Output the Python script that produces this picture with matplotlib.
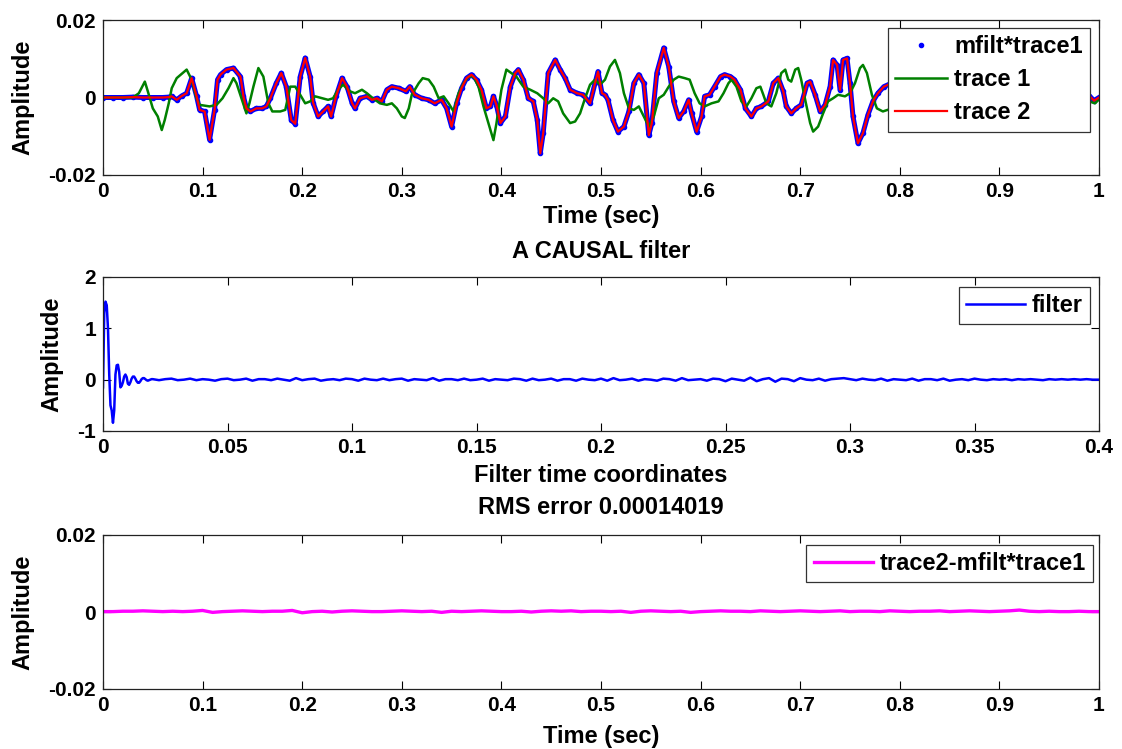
import numpy as np
import matplotlib
matplotlib.use("Agg")
import matplotlib.pyplot as plt

plt.rcParams['font.family'] = ['Liberation Sans', 'DejaVu Sans']
plt.rcParams['font.weight'] = 'bold'
plt.rcParams['font.size'] = 17
plt.rcParams['axes.unicode_minus'] = False

# trace 2 (and mfilt*trace1, which sits on top of it)
t2_t = [0.000, 0.010, 0.020, 0.030, 0.040, 0.050, 0.060, 0.066, 0.069, 0.074, 0.079, 0.084, 0.089,
        0.094, 0.097, 0.102, 0.107, 0.112, 0.115, 0.118, 0.124, 0.131, 0.138, 0.141, 0.144, 0.148,
        0.154, 0.160, 0.164, 0.168, 0.174, 0.179, 0.184, 0.189, 0.193, 0.198, 0.203, 0.208, 0.211,
        0.216, 0.221, 0.226, 0.229, 0.234, 0.240, 0.245, 0.250, 0.253, 0.258, 0.265, 0.270, 0.275,
        0.280, 0.285, 0.290, 0.297, 0.304, 0.308, 0.313, 0.320, 0.327, 0.333, 0.340, 0.345, 0.350,
        0.355, 0.360, 0.365, 0.370, 0.375, 0.380, 0.385, 0.389, 0.392, 0.395, 0.399, 0.404, 0.409,
        0.414, 0.417, 0.422, 0.427, 0.432, 0.436, 0.439, 0.442, 0.447, 0.454, 0.459, 0.464, 0.469,
        0.476, 0.482, 0.489, 0.494, 0.497, 0.501, 0.504, 0.507, 0.512, 0.517, 0.523, 0.528, 0.533,
        0.538, 0.543, 0.548, 0.551, 0.556, 0.563, 0.568, 0.573, 0.578, 0.583, 0.588, 0.591, 0.596,
        0.601, 0.604, 0.609, 0.614, 0.620, 0.624, 0.630, 0.634, 0.640, 0.645, 0.651, 0.656, 0.661,
        0.668, 0.673, 0.678, 0.683, 0.686, 0.691, 0.696, 0.701, 0.707, 0.710, 0.715, 0.720, 0.725,
        0.730, 0.733, 0.737, 0.740, 0.743, 0.747, 0.750, 0.753, 0.758, 0.763, 0.768, 0.773, 0.778,
        0.784, 0.790, 0.800, 0.810, 0.820, 0.830, 0.840, 0.850, 0.860, 0.870, 0.880, 0.890, 0.900,
        0.910, 0.920, 0.930, 0.940, 0.950, 0.960, 0.970, 0.980, 0.990, 0.995, 1.000]
t2_v = [0.0, 0.0, 0.0, 0.0001, 0.0, 0.0, 0.0, 0.0001, 0.0003, -0.0006, 0.0004, 0.0011, 0.0050,
        0.0003, -0.0032, -0.0036, -0.0109, -0.0032, 0.0046, 0.0059, 0.0072, 0.0076, 0.0054, 0.0003,
        -0.0028, -0.0036, -0.0028, -0.0028, -0.0023, -0.0002, 0.0037, 0.0063, 0.0028, -0.0058,
        -0.0068, 0.0054, 0.0102, 0.0054, -0.0014, -0.0049, -0.0036, -0.0023, -0.0049, 0.0003,
        0.0050, 0.0028, -0.0014, -0.0028, -0.0002, 0.0003, -0.0006, -0.0002, -0.0010, 0.0020,
        0.0028, 0.0024, 0.0016, 0.0028, 0.0007, -0.0002, -0.0006, -0.0015, -0.0006, -0.0028,
        -0.0075, -0.0015, 0.0024, 0.0050, 0.0059, 0.0046, 0.0020, -0.0028, -0.0023, 0.0003,
        -0.0019, -0.0066, -0.0049, 0.0028, 0.0063, 0.0072, 0.0046, -0.0002, -0.0010, -0.0058,
        -0.0144, -0.0092, 0.0063, 0.0097, 0.0072, 0.0050, 0.0020, 0.0011, 0.0007, -0.0015, 0.0037,
        0.0067, 0.0011, 0.0007, -0.0006, -0.0058, -0.0088, -0.0075, -0.0036, 0.0037, 0.0059,
        0.0037, -0.0097, -0.0067, 0.0063, 0.0128, 0.0080, -0.0010, -0.0053, -0.0036, -0.0006,
        -0.0041, -0.0088, -0.0049, 0.0003, 0.0007, 0.0028, 0.0054, 0.0059, 0.0054, 0.0046, 0.0020,
        -0.0028, -0.0049, -0.0028, -0.0023, -0.0010, 0.0037, 0.0050, 0.0016, -0.0023, -0.0041,
        -0.0028, -0.0019, 0.0037, 0.0041, 0.0007, -0.0036, -0.0019, 0.0028, 0.0097, 0.0084, 0.0020,
        0.0097, 0.0101, 0.0037, -0.0049, -0.0118, -0.0092, -0.0045, -0.0010, 0.0011, 0.0028,
        0.0035, 0.0030, -0.0020, 0.0040, 0.0010, -0.0030, 0.0050, 0.0020, -0.0020, 0.0030, 0.0000,
        -0.0030, 0.0040, 0.0020, -0.0020, 0.0030, -0.0010, 0.0020, 0.0010, 0.0010, 0.0005,
        -0.0008, 0.0]

# trace 1
t1_t = [0.000, 0.010, 0.020, 0.030, 0.036, 0.042, 0.045, 0.047, 0.050, 0.055, 0.059, 0.062, 0.066,
        0.069, 0.074, 0.084, 0.089, 0.094, 0.097, 0.107, 0.114, 0.120, 0.126, 0.131, 0.134, 0.139,
        0.144, 0.147, 0.151, 0.156, 0.161, 0.166, 0.170, 0.178, 0.183, 0.188, 0.193, 0.198, 0.203,
        0.208, 0.213, 0.220, 0.226, 0.231, 0.236, 0.241, 0.248, 0.253, 0.260, 0.265, 0.271, 0.278,
        0.285, 0.290, 0.295, 0.300, 0.303, 0.307, 0.310, 0.317, 0.321, 0.327, 0.332, 0.337, 0.342,
        0.347, 0.352, 0.357, 0.362, 0.367, 0.372, 0.377, 0.382, 0.387, 0.392, 0.395, 0.400, 0.405,
        0.410, 0.415, 0.422, 0.429, 0.436, 0.442, 0.447, 0.452, 0.457, 0.462, 0.469, 0.474, 0.479,
        0.484, 0.489, 0.494, 0.499, 0.504, 0.509, 0.514, 0.519, 0.523, 0.528, 0.533, 0.538, 0.543,
        0.548, 0.553, 0.558, 0.563, 0.568, 0.573, 0.578, 0.584, 0.589, 0.594, 0.599, 0.604, 0.611,
        0.618, 0.623, 0.628, 0.631, 0.636, 0.641, 0.646, 0.651, 0.656, 0.660, 0.663, 0.666, 0.671,
        0.676, 0.681, 0.685, 0.688, 0.691, 0.695, 0.698, 0.701, 0.705, 0.710, 0.713, 0.718, 0.723,
        0.728, 0.733, 0.738, 0.745, 0.750, 0.755, 0.760, 0.763, 0.767, 0.772, 0.777, 0.783, 0.790,
        0.800, 0.810, 0.820, 0.830, 0.840, 0.850, 0.860, 0.870, 0.880, 0.890, 0.900, 0.910, 0.920,
        0.930, 0.940, 0.950, 0.960, 0.970, 0.980, 0.990, 0.996, 1.000]
t1_v = [0.0, 0.0, 0.0, 0.0, 0.0011, 0.0041, 0.0016, -0.0002, -0.0028, -0.0049, -0.0084, -0.0058,
        -0.0015, 0.0024, 0.0050, 0.0072, 0.0046, -0.0002, -0.0019, -0.0023, -0.0019, -0.0002,
        0.0024, 0.0050, 0.0037, -0.0002, -0.0041, -0.0015, 0.0028, 0.0076, 0.0054, -0.0015,
        -0.0036, -0.0036, -0.0032, 0.0028, 0.0028, 0.0007, -0.0015, -0.0010, 0.0003, -0.0002,
        -0.0006, -0.0002, 0.0020, 0.0033, 0.0016, 0.0011, 0.0020, 0.0011, -0.0002, -0.0015,
        -0.0019, -0.0015, -0.0028, -0.0049, -0.0053, -0.0028, 0.0007, 0.0037, 0.0050, 0.0046,
        0.0028, -0.0002, 0.0003, -0.0015, -0.0036, 0.0011, 0.0037, 0.0054, 0.0054, 0.0028,
        -0.0023, -0.0066, -0.0110, -0.0067, 0.0020, 0.0072, 0.0063, 0.0054, 0.0028, 0.0020,
        0.0011, -0.0002, -0.0015, -0.0002, -0.0010, -0.0041, -0.0066, -0.0062, -0.0041, -0.0002,
        0.0033, 0.0046, 0.0033, 0.0046, 0.0080, 0.0097, 0.0063, 0.0011, -0.0028, -0.0032,
        -0.0023, -0.0049, -0.0075, -0.0049, -0.0002, 0.0007, 0.0028, 0.0046, 0.0054, 0.0050,
        0.0046, 0.0011, -0.0015, -0.0023, -0.0015, -0.0010, 0.0011, 0.0037, 0.0046, 0.0028,
        -0.0010, -0.0023, -0.0002, 0.0024, 0.0028, 0.0007, -0.0015, -0.0023, 0.0011, 0.0063,
        0.0072, 0.0046, 0.0041, 0.0072, 0.0076, 0.0046, -0.0006, -0.0066, -0.0088, -0.0075,
        -0.0041, -0.0010, -0.0002, 0.0007, 0.0003, 0.0011, 0.0037, 0.0076, 0.0084, 0.0063,
        0.0007, -0.0028, -0.0036, -0.0030, 0.0020, 0.0050, 0.0020, -0.0030, 0.0010, 0.0040,
        -0.0010, -0.0040, 0.0010, 0.0030, 0.0000, -0.0030, 0.0010, 0.0030, -0.0010, -0.0020,
        0.0010, 0.0020, 0.0000, -0.0010, -0.0015, -0.0005]

# filter: fine sampling over the first 20 ms, coarser after that
filt_dt_head = 0.0005
filt_head = [-0.15, 1.30, 1.52, 1.45, 1.00, 0.10, -0.50, -0.60, -0.84, -0.60,
             0.10, 0.28, 0.29, 0.15, -0.15, -0.12, -0.05, 0.06, 0.10, 0.05,
             -0.08, -0.10, -0.05, 0.02, 0.06, 0.06, 0.02, -0.03, -0.06, -0.06,
             -0.03, 0.01, 0.03, 0.03, 0.01, -0.01, -0.02, -0.01, 0.00, 0.01]
filt_dt_tail = 0.0025
filt_tail = [0.01, -0.01, 0.01, 0.02, -0.01, 0.00, 0.02, -0.01, 0.01, 0.00,
             -0.02, 0.01, 0.02, -0.01, 0.00, 0.02, -0.02, 0.01, 0.01, -0.01,
             0.02, 0.00, -0.02, 0.03, -0.01, 0.01, 0.02, -0.02, 0.00, 0.01,
             -0.01, 0.02, 0.01, -0.02, 0.02, 0.00, -0.01, 0.02, -0.01, 0.01,
             0.02, -0.02, 0.01, 0.00, -0.01, 0.03, -0.02, 0.01, 0.01, -0.01,
             0.02, -0.01, 0.00, 0.02, -0.02, 0.01, 0.00, -0.01, 0.02, 0.01,
             -0.02, 0.02, -0.01, 0.00, 0.02, -0.02, 0.01, 0.01, -0.02, 0.02,
             0.00, -0.01, 0.02, -0.02, 0.03, -0.01, 0.00, 0.02, -0.02, 0.01,
             0.00, -0.02, 0.02, 0.01, -0.02, 0.03, -0.01, 0.00, 0.01, -0.02,
             0.02, 0.01, -0.03, 0.02, 0.00, -0.02, 0.04, -0.03, 0.01, 0.03,
             -0.04, 0.02, 0.01, -0.03, 0.03, 0.00, -0.01, 0.02, -0.02, 0.01,
             0.02, 0.03, 0.01, -0.01, 0.02, 0.00, -0.01, 0.02, -0.02, 0.01,
             0.00, -0.01, 0.02, -0.02, 0.01, 0.01, -0.01, 0.02, -0.02, 0.00,
             0.01, -0.01, 0.02, 0.00, -0.01, 0.01, 0.00, 0.01, -0.01, 0.01,
             0.00, 0.01, 0.00, -0.01, 0.01, 0.00, 0.01, 0.00, 0.01, 0.00,
             0.01, 0.00, 0.00]

# residual trace2 - mfilt*trace1, one value every 10 ms
resid_dt = 0.01
resid = [0.0001, 0.0001, 0.0002, 0.0002, 0.0003, 0.0002, 0.0001, 0.0002, 0.0001, 0.0002,
         0.0004, -0.0001, 0.0001, 0.0002, 0.0003, 0.0002, 0.0001, 0.0002, 0.0002, 0.0004,
         -0.0002, 0.0001, 0.0002, 0.0000, 0.0002, 0.0003, 0.0002, 0.0001, 0.0001, 0.0002,
         0.0003, 0.0002, 0.0001, 0.0002, -0.0001, 0.0002, 0.0001, 0.0002, 0.0003, 0.0002,
         0.0001, 0.0001, 0.0002, 0.0000, 0.0002, 0.0003, 0.0002, 0.0003, 0.0001, 0.0002,
         0.0002, 0.0001, 0.0002, -0.0001, 0.0002, 0.0003, 0.0002, 0.0001, 0.0002, -0.0001,
         0.0001, 0.0002, 0.0003, 0.0002, 0.0002, 0.0001, 0.0003, 0.0002, 0.0001, 0.0002,
         0.0003, 0.0002, 0.0001, 0.0002, 0.0003, 0.0001, 0.0002, 0.0002, 0.0001, 0.0003,
         0.0002, 0.0001, 0.0002, 0.0002, 0.0003, 0.0001, 0.0002, 0.0003, 0.0002, 0.0001,
         0.0002, 0.0003, 0.0005, 0.0002, 0.0001, 0.0002, 0.0001, 0.0001, 0.0002, 0.0001, 0.0001]

time_ticks = [0, 0.1, 0.2, 0.3, 0.4, 0.5, 0.6, 0.7, 0.8, 0.9, 1]
time_labels = ['0', '0.1', '0.2', '0.3', '0.4', '0.5', '0.6', '0.7', '0.8', '0.9', '1']
filt_ticks = [0, 0.05, 0.1, 0.15, 0.2, 0.25, 0.3, 0.35, 0.4]
filt_labels = ['0', '0.05', '0.1', '0.15', '0.2', '0.25', '0.3', '0.35', '0.4']
amp_ticks = [-0.02, 0, 0.02]
amp_labels = ['-0.02', '0', '0.02']

W, H = 1122, 749
fig = plt.figure(figsize=(W / 100, H / 100), dpi=100)


def box(left, top, right, bottom):
    return [left / W, 1 - bottom / H, (right - left) / W, (bottom - top) / H]


def style(ax):
    ax.tick_params(direction='in', top=True, right=True, length=5.5, width=0.8,
                   labelsize=15, pad=5)
    for s in ax.spines.values():
        s.set_linewidth(0.9)
        s.set_color('#222222')
    ax.set_ylabel('Amplitude', fontsize=17, fontweight='bold', labelpad=10)


def add_legend(ax, anchor, hlen, spacing=0.2):
    leg = ax.legend(loc='upper right', bbox_to_anchor=anchor, borderaxespad=0,
                    fancybox=False, framealpha=1, edgecolor='#333333',
                    prop={'weight': 'bold', 'size': 17}, handlelength=hlen,
                    handletextpad=0.3, labelspacing=spacing, borderpad=0.3)
    leg.get_frame().set_linewidth(0.9)
    return leg


# top panel: traces
ax1 = fig.add_axes(box(103, 20, 1099, 175))
ax1.plot(t2_t, t2_v, '-', color='blue', lw=3.6)
ax1.plot(t2_t, t2_v, '.', color='blue', ms=6, label='mfilt*trace1')
ax1.plot(t1_t, t1_v, '-', color='#008000', lw=1.8, label='trace 1')
ax1.plot(t2_t, t2_v, '-', color='red', lw=1.6, label='trace 2')
ax1.set_xlim(0, 1)
ax1.set_ylim(-0.02, 0.02)
ax1.set_xticks(time_ticks)
ax1.set_xticklabels(time_labels)
ax1.set_yticks(amp_ticks)
ax1.set_yticklabels(amp_labels)
ax1.set_xlabel('Time (sec)', fontsize=17, fontweight='bold', labelpad=3)
style(ax1)
add_legend(ax1, (0.991, 0.948), 2.2, spacing=0.43)

# middle panel: the filter
filt_t = np.concatenate([np.arange(len(filt_head)) * filt_dt_head,
                         0.02 + np.arange(len(filt_tail)) * filt_dt_tail])
filt_v = filt_head + filt_tail
ax2 = fig.add_axes(box(103, 277, 1099, 431))
ax2.plot(filt_t, filt_v, '-', color='blue', lw=1.8, label='filter')
ax2.set_xlim(0, 0.4)
ax2.set_ylim(-1, 2)
ax2.set_xticks(filt_ticks)
ax2.set_xticklabels(filt_labels)
ax2.set_yticks([-1, 0, 1, 2])
ax2.set_title('A CAUSAL filter', fontsize=17, fontweight='bold', pad=14)
ax2.set_xlabel('Filter time coordinates', fontsize=17, fontweight='bold', labelpad=5)
style(ax2)
add_legend(ax2, (0.991, 0.935), 2.5)

# bottom panel: residual
resid_t = np.arange(len(resid)) * resid_dt
ax3 = fig.add_axes(box(103, 535, 1099, 689))
ax3.plot(resid_t, resid, '-', color='#ff00ff', lw=2.4, label='trace2-mfilt*trace1')
ax3.set_xlim(0, 1)
ax3.set_ylim(-0.02, 0.02)
ax3.set_xticks(time_ticks)
ax3.set_xticklabels(time_labels)
ax3.set_yticks(amp_ticks)
ax3.set_yticklabels(amp_labels)
ax3.set_title('RMS error 0.00014019', fontsize=17, fontweight='bold', pad=15)
ax3.set_xlabel('Time (sec)', fontsize=17, fontweight='bold', labelpad=7)
style(ax3)
add_legend(ax3, (0.994, 0.935), 2.5)

fig.savefig('out.png', dpi=100)
